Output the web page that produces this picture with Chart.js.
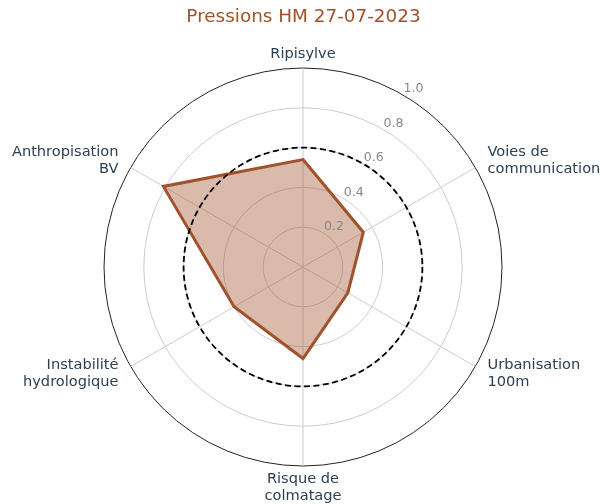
<!DOCTYPE html>
<html lang="fr">
<head>
    <meta charset="UTF-8">
    <title>Pressions HM 27-07-2023</title>
    <script src="https://cdn.jsdelivr.net/npm/chart.js"></script>
    <style>
        html, body {
            margin: 0;
            padding: 0;
            background: #fff;
        }
        #chartContainer {
            width: 609px;
            height: 504px;
        }
    </style>
</head>
<body>
    <div id="chartContainer">
        <canvas id="pressionsChart"></canvas>
    </div>

    <script>
        const axes = [
            ['Ripisylve'],
            ['Voies de', 'communication'],
            ['Urbanisation', '100m'],
            ['Risque de', 'colmatage'],
            ['Instabilité', 'hydrologique'],
            ['Anthropisation', 'BV']
        ];
        const valeurs = [0.54, 0.35, 0.26, 0.46, 0.40, 0.81];
        const seuil = 0.6;
        const graduations = [0.2, 0.4, 0.6, 0.8, 1.0];

        const couleur = '#a0522d';
        const couleurTexte = '#2c3e50';

        Chart.defaults.font.family = "'DejaVu Sans', sans-serif";

        // cercle pointillé du seuil, étiquettes des graduations et des axes
        const habillage = {
            id: 'habillage',
            afterDatasetsDraw(chart) {
                const scale = chart.scales.r;
                const ctx = chart.ctx;
                const cx = scale.xCenter, cy = scale.yCenter;

                ctx.save();
                ctx.beginPath();
                ctx.setLineDash([6, 3.5]);
                ctx.lineWidth = 1.8;
                ctx.strokeStyle = '#000';
                ctx.arc(cx, cy, scale.getDistanceFromCenterForValue(seuil), 0, Math.PI * 2);
                ctx.stroke();
                ctx.setLineDash([]);

                ctx.font = "12.6px 'DejaVu Sans'";
                ctx.fillStyle = '#888';
                ctx.textAlign = 'left';
                ctx.textBaseline = 'alphabetic';
                graduations.forEach(v => {
                    const p = scale.getPointPosition(0.5, scale.getDistanceFromCenterForValue(v));
                    ctx.fillText(v.toFixed(1), p.x + 1, p.y - 2.5);
                });
                ctx.restore();
            },
            afterDraw(chart) {
                const scale = chart.scales.r;
                const ctx = chart.ctx;
                const r = scale.drawingArea;
                const hLigne = 16.5;

                ctx.save();
                ctx.font = "14.6px 'DejaVu Sans'";
                ctx.fillStyle = couleurTexte;
                ctx.textBaseline = 'middle';
                axes.forEach((lignes, i) => {
                    const p = scale.getPointPosition(i, r + 14);
                    const c = Math.cos(p.angle), s = Math.sin(p.angle);
                    const hBloc = lignes.length * hLigne;
                    let y0;
                    if (Math.abs(c) < 0.01) {
                        ctx.textAlign = 'center';
                        y0 = s < 0 ? scale.yCenter - r - 6 - hBloc : scale.yCenter + r + 5;
                    } else {
                        ctx.textAlign = c > 0 ? 'left' : 'right';
                        y0 = p.y - hBloc / 2;
                    }
                    lignes.forEach((t, k) => {
                        ctx.fillText(t, p.x, y0 + hLigne * (k + 0.5));
                    });
                });
                ctx.restore();
            }
        };

        const ctx = document.getElementById('pressionsChart').getContext('2d');

        const chart = new Chart(ctx, {
            type: 'radar',
            data: {
                labels: axes,
                datasets: [{
                    label: 'Pressions',
                    data: valeurs,
                    borderColor: couleur,
                    backgroundColor: 'rgba(160, 82, 45, 0.4)',
                    borderWidth: 3,
                    borderJoinStyle: 'miter',
                    pointRadius: 0,
                    pointHoverRadius: 0,
                    fill: true
                }]
            },
            options: {
                responsive: true,
                maintainAspectRatio: false,
                animation: false,
                layout: {
                    padding: { top: 0, bottom: 37, left: 0, right: 2 }
                },
                scales: {
                    r: {
                        min: 0,
                        max: 1,
                        ticks: {
                            display: false,
                            stepSize: 0.2
                        },
                        grid: {
                            circular: true,
                            color: c => c.tick && c.tick.value === 1 ? '#222' : '#cccccc',
                            lineWidth: 1
                        },
                        angleLines: {
                            color: '#cccccc',
                            lineWidth: 1
                        },
                        pointLabels: {
                            display: false
                        }
                    }
                },
                plugins: {
                    legend: { display: false },
                    tooltip: { enabled: false },
                    title: {
                        display: true,
                        text: 'Pressions HM 27-07-2023',
                        color: couleur,
                        font: { size: 18.4, weight: 'normal' },
                        padding: { top: 6, bottom: 40 }
                    }
                }
            },
            plugins: [habillage]
        });
    </script>
</body>
</html>
